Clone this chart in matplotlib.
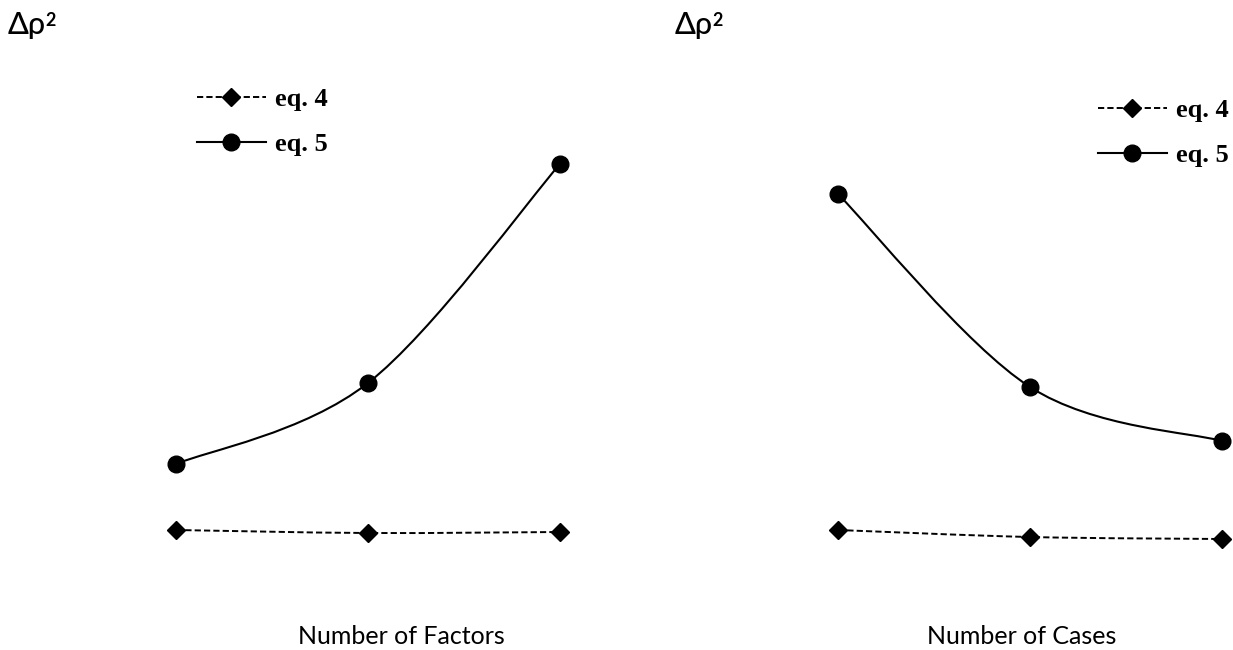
import matplotlib
matplotlib.use("Agg")
import matplotlib.pyplot as plt
from matplotlib.path import Path
from matplotlib.patches import PathPatch
from matplotlib.lines import Line2D

# ── Data (arbitrary units, no axis scale shown in the original) ──────────────
steps = [1, 2, 3]

factors_eq4 = [0.70, 0.67, 0.68]
factors_eq5 = [1.36, 2.17, 4.36]

cases_eq4 = [0.70, 0.63, 0.61]
cases_eq5 = [4.06, 2.13, 1.59]

panel_xlabels = ["Number of Factors", "Number of Cases"]
ylabel_base, ylabel_sup = "\u0394\u03c1", "2"
legend_labels = ["eq. 4", "eq. 5"]

SANS = ["Lato", "DejaVu Sans"]
SERIF = "Liberation Serif"
DASH = (0, (3.2, 1.6))


def smooth_path(xs, ys):
    """Catmull-Rom style Bezier path through the points (like Excel smoothing)."""
    pts = list(zip(xs, ys))
    n = len(pts)
    verts = [pts[0]]
    codes = [Path.MOVETO]
    for i in range(n - 1):
        p0 = pts[i - 1] if i > 0 else pts[i]
        p1 = pts[i]
        p2 = pts[i + 1]
        p3 = pts[i + 2] if i + 2 < n else pts[i + 1]
        c1 = (p1[0] + (p2[0] - p0[0]) / 6, p1[1] + (p2[1] - p0[1]) / 6)
        c2 = (p2[0] - (p3[0] - p1[0]) / 6, p2[1] - (p3[1] - p1[1]) / 6)
        verts += [c1, c2, p2]
        codes += [Path.CURVE4] * 3
    return Path(verts, codes)


def draw_panel(ax, eq4, eq5):
    ax.add_patch(PathPatch(smooth_path(steps, eq4), fill=False, color="black",
                           lw=1.4, linestyle=DASH, clip_on=False))
    ax.add_patch(PathPatch(smooth_path(steps, eq5), fill=False, color="black",
                           lw=1.5, clip_on=False))
    ax.plot(steps, eq4, ls="none", marker="D", ms=9.5, color="black", clip_on=False)
    ax.plot(steps, eq5, ls="none", marker="o", ms=12, color="black", clip_on=False)
    ax.set_ylim(-0.5, 6.0)
    ax.axis("off")


fig = plt.figure(figsize=(12.33, 6.5), dpi=100)
W, H = 1233, 650

# left panel: x=1..3 at px 176..560
ax1 = fig.add_axes([80 / W, 0, 576 / W, 1])
ax1.set_xlim(0.5, 3.5)
draw_panel(ax1, factors_eq4, factors_eq5)

# right panel: x=1..3 at px 838..1222
ax2 = fig.add_axes([742 / W, 0, 491 / W, 1])
ax2.set_xlim(0.5, 0.5 + 491 / 192)
draw_panel(ax2, cases_eq4, cases_eq5)

handles = [
    Line2D([], [], color="black", lw=1.4, ls=DASH, marker="D", ms=9.5),
    Line2D([], [], color="black", lw=1.5, marker="o", ms=12),
]
leg_kw = dict(frameon=False, handlelength=2.6, handletextpad=0.34, labelspacing=0.81,
              borderaxespad=0, borderpad=0,
              prop={"family": SERIF, "weight": "bold", "size": 19})
fig.legend(handles, legend_labels, loc="upper left",
           bbox_to_anchor=(197 / W, 1 - 88 / H), **leg_kw)
fig.legend(handles, legend_labels, loc="upper left",
           bbox_to_anchor=(1098 / W, 1 - 99 / H), **leg_kw)

# y "labels" (delta rho squared) and x labels
for x0 in (8, 675):
    fig.text(x0 / W, 1 - 25 / H, ylabel_base, family=SANS, fontsize=22,
             weight="medium", va="center", ha="left")
    fig.text((x0 + 37) / W, 1 - 12 / H, ylabel_sup, family=SANS, fontsize=13,
             weight="bold", va="top", ha="left")
fig.text(401 / W, 1 - 637 / H, panel_xlabels[0], family=SANS, fontsize=18, va="center", ha="center")
fig.text(1022 / W, 1 - 637 / H, panel_xlabels[1], family=SANS, fontsize=18, va="center", ha="center")

fig.savefig("out.png", dpi=100)
